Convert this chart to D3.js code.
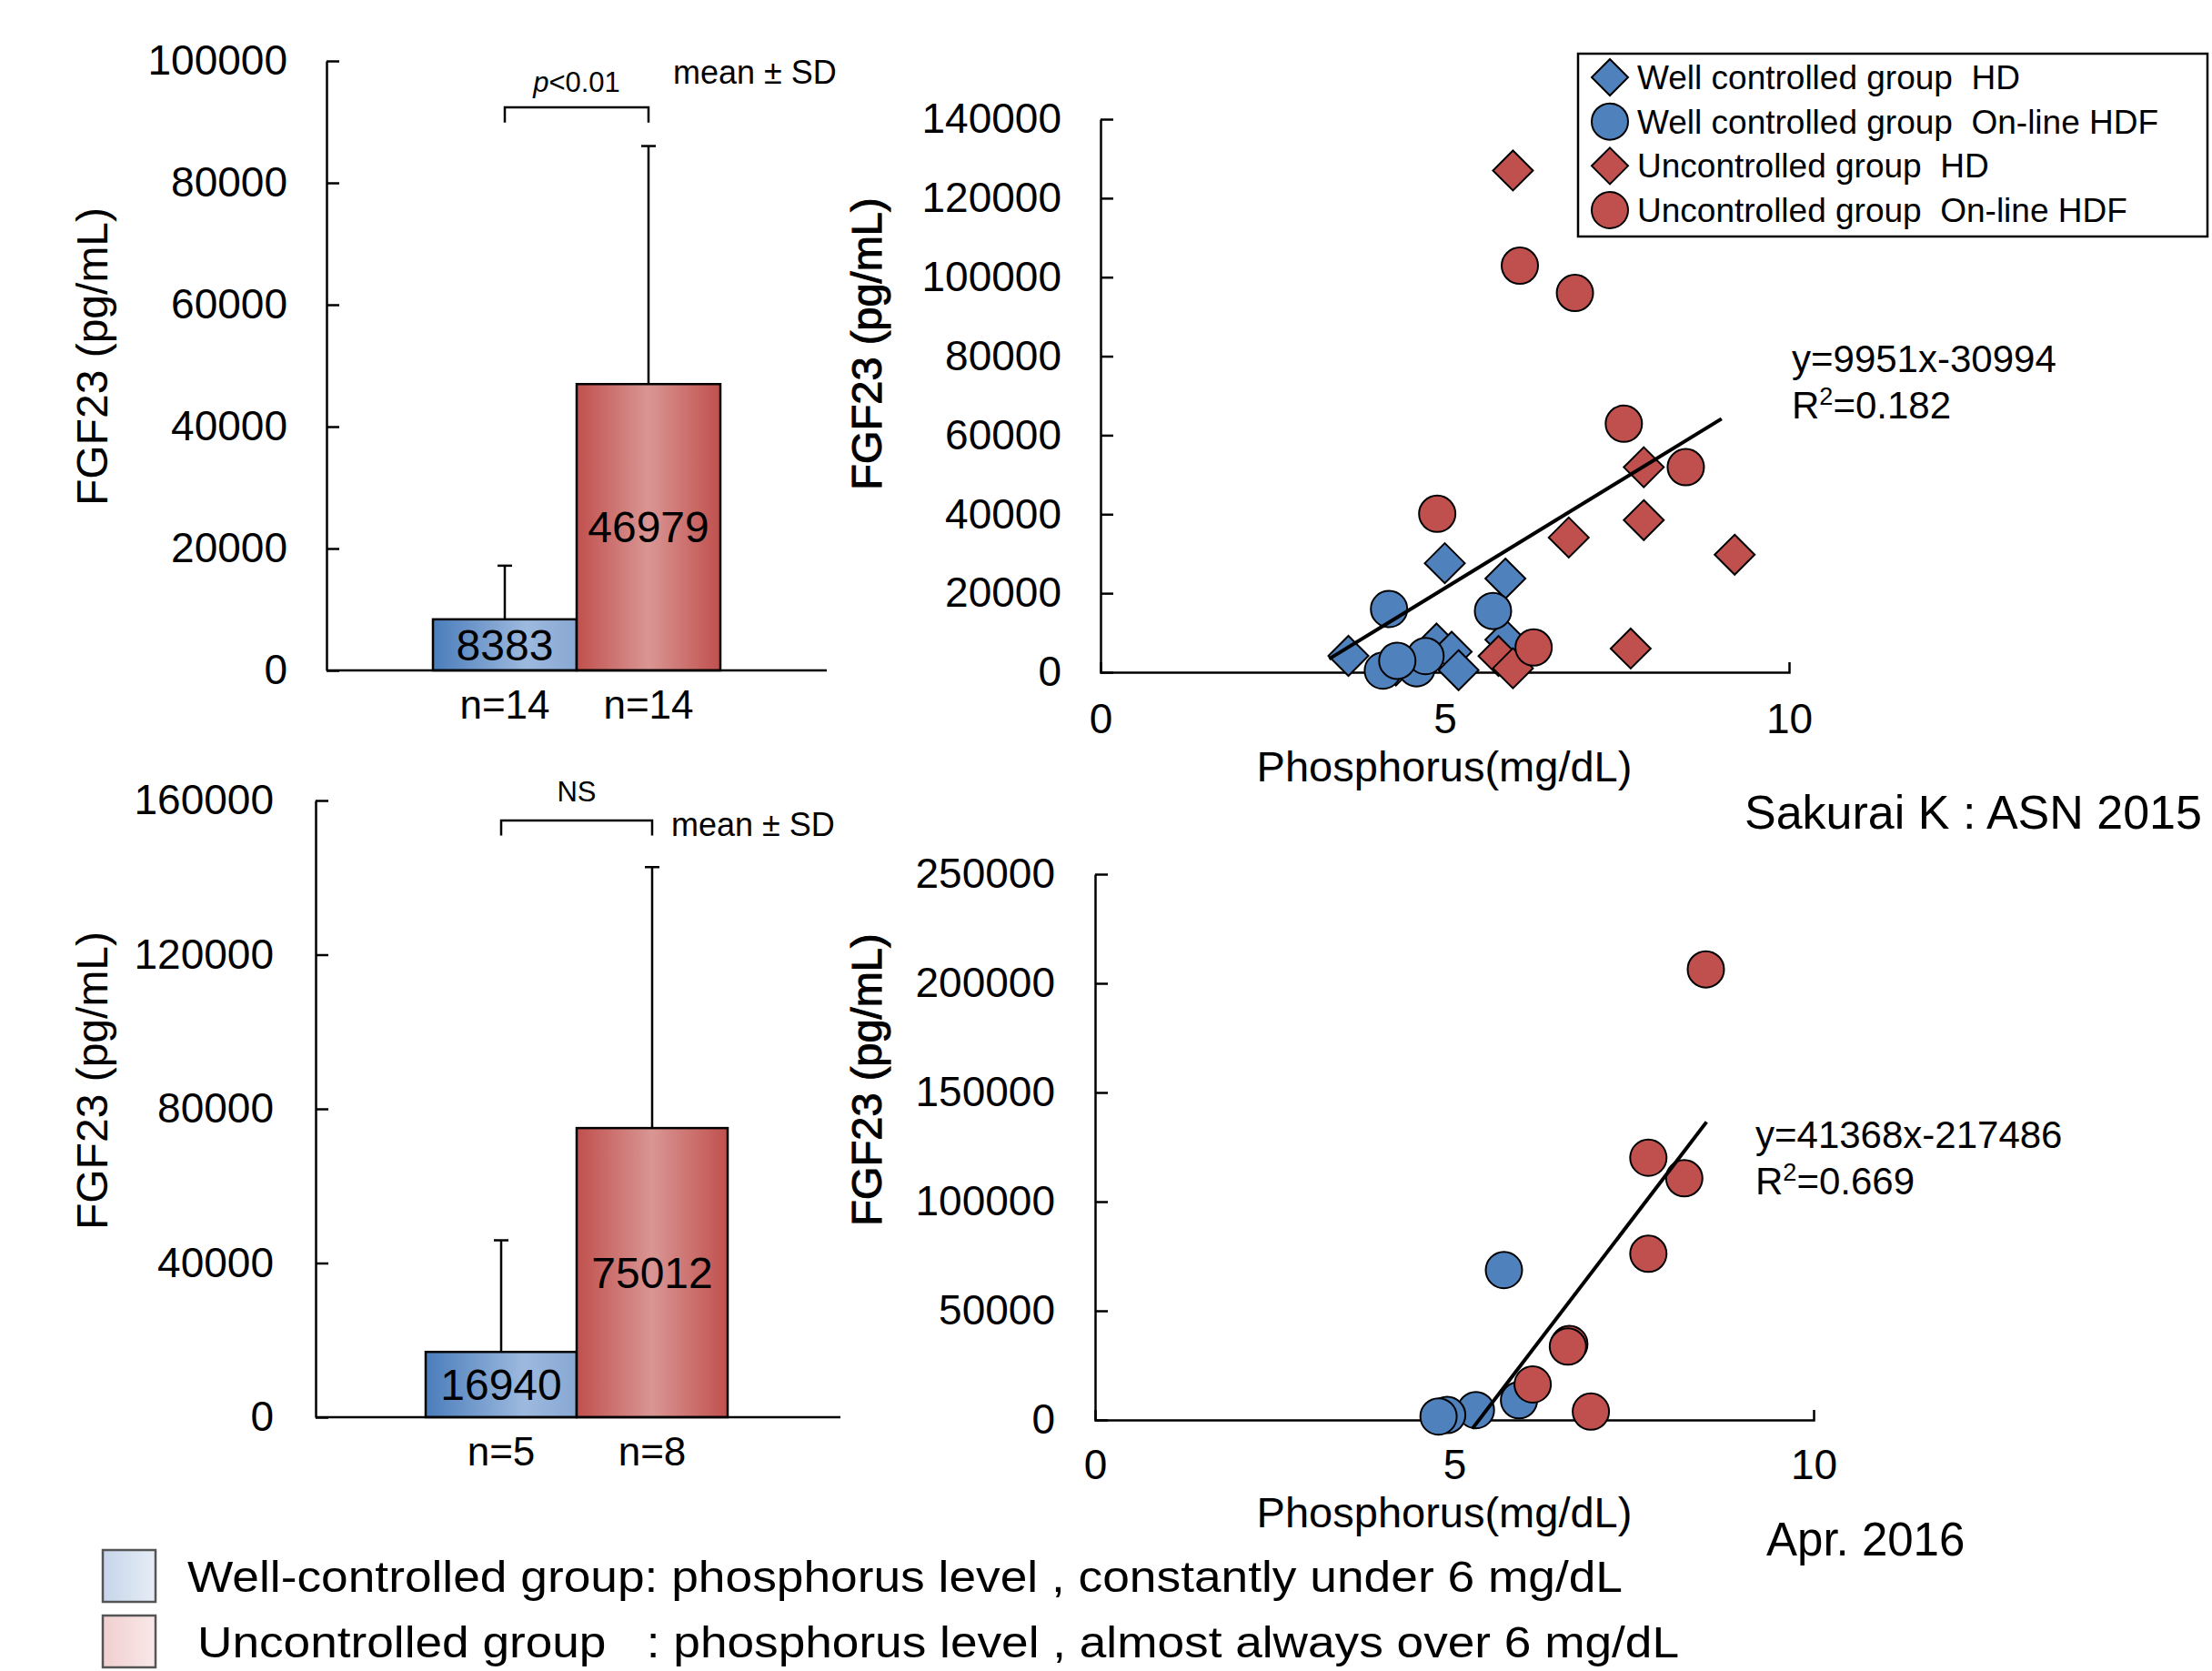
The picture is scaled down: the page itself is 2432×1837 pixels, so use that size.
<!DOCTYPE html>
<html>
<head>
<meta charset="utf-8">
<script src="https://cdn.jsdelivr.net/npm/d3@7"></script>
<style>
  html, body { margin: 0; padding: 0; background: #fff; }
  svg text { font-family: "Liberation Sans", Arial, Helvetica, sans-serif; fill: #000; }
</style>
</head>
<body>
<div id="chart"></div>
<script>
/**
 * DATA
 * */
const groups = ["Well controlled", "Uncontrolled"];

// bar charts (mean, SD, n)
const topMeans = [8383, 46979];
const topSD = [8800, 39060];
const topN = ["n=14", "n=14"];
const topTicks = [0, 20000, 40000, 60000, 80000, 100000];

const botMeans = [16940, 75012];
const botSD = [28960, 67700];
const botN = ["n=5", "n=8"];
const botTicks = [0, 40000, 80000, 120000, 160000];

// scatter, all patients: [phosphorus, FGF23]
const wellHD = [[5.00, 27600], [5.88, 23700], [3.60, 4150], [4.88, 7260], [5.10, 5190], [5.20, 500], [5.88, 8250], [4.29, 1700]];
const wellHDF = [[4.19, 16000], [5.70, 15500], [4.10, 400], [4.59, 1000], [4.72, 4100], [4.31, 2900]];
const unHD = [[5.99, 127000], [7.89, 51900], [7.89, 38500], [6.80, 34100], [9.21, 29750], [7.70, 6000], [5.78, 4100], [5.99, 1000]];
const unHDF = [[6.09, 102900], [6.89, 96000], [7.60, 62900], [8.50, 51900], [4.89, 40100], [6.29, 6250]];
const scatterTopTicks = [0, 20000, 40000, 60000, 80000, 100000, 120000, 140000];
const fitTopLine = [[3.32, 3360], [9.02, 64150]];   // drawn trend line y=9951x-30994

// scatter, on-line HDF patients
const wellHDF2 = [[5.69, 68650], [5.90, 9030], [5.30, 4500], [4.90, 2260], [4.78, 1580]];
const unHDF2 = [[8.50, 206400], [7.70, 120100], [8.20, 110700], [7.70, 76100], [6.60, 34800], [6.58, 33600], [6.09, 16260], [6.90, 3840]];
const scatterBotTicks = [0, 50000, 100000, 150000, 200000, 250000];
const fitBotLine = [[5.25, -4000], [8.51, 136500]];  // drawn trend line y=41368x-217486

const xTicks = [0, 5, 10];

const legendLabels = ["Well controlled group  HD", "Well controlled group  On-line HDF", "Uncontrolled group  HD", "Uncontrolled group  On-line HDF"];
const noteLabels = ["Well-controlled group: phosphorus level , constantly under 6 mg/dL",
                    "Uncontrolled group   : phosphorus level , almost always over 6 mg/dL"];

const BLUE = "#4f81bd", RED = "#c0504d";

/**
 * SVG
 * */
const svg = d3.select("#chart").append("svg")
  .attr("width", 2432)
  .attr("height", 1837)
  .style("display", "block");

const defs = svg.append("defs");
function grad(id, stops) {
  const lg = defs.append("linearGradient").attr("id", id).attr("x1", 0).attr("x2", 1).attr("y1", 0).attr("y2", 0);
  stops.forEach(s => lg.append("stop").attr("offset", s[0]).attr("stop-color", s[1]));
}
grad("barBlue", [[0, "#4a7dbb"], [0.65, "#9db9de"], [1, "#88a8d3"]]);
grad("barRed", [[0, "#c0504d"], [0.5, "#d99694"], [1, "#c0504d"]]);
grad("boxBlue", [[0, "#c6d5ea"], [1, "#e6edf6"]]);
grad("boxRed", [[0, "#f0cfcf"], [1, "#f9e8e8"]]);

function styleAxis(g, size) {
  g.attr("font-size", size).attr("font-family", null);
  g.selectAll(".domain").attr("stroke", "#000").attr("stroke-width", 2.5);
  g.selectAll(".tick line").attr("stroke", "#000").attr("stroke-width", 2.5);
}

/*********************/
/*** BAR CHARTS    ***/
/*********************/
function drawBars(cfg) {
  const y = d3.scaleLinear().domain([0, cfg.max]).range([cfg.y0, cfg.y1]);
  const x = d3.scaleBand().domain(groups).range([cfg.barL, cfg.barR]).paddingInner(0);
  const g = svg.append("g");

  // bars
  g.selectAll("rect.bar")
    .data(cfg.means)
    .join("rect")
    .attr("class", "bar")
    .attr("x", (d, i) => x(groups[i]))
    .attr("y", d => y(d))
    .attr("width", x.bandwidth())
    .attr("height", d => y(0) - y(d))
    .attr("fill", (d, i) => i === 0 ? "url(#barBlue)" : "url(#barRed)")
    .attr("stroke", "#000")
    .attr("stroke-width", 2.5);

  // error bars (mean + SD)
  const cx = i => x(groups[i]) + x.bandwidth() / 2;
  cfg.means.forEach((m, i) => {
    g.append("line").attr("x1", cx(i)).attr("x2", cx(i))
      .attr("y1", y(m)).attr("y2", y(m + cfg.sd[i]))
      .attr("stroke", "#000").attr("stroke-width", 2.5);
    g.append("line").attr("x1", cx(i) - 8).attr("x2", cx(i) + 8)
      .attr("y1", y(m + cfg.sd[i])).attr("y2", y(m + cfg.sd[i]))
      .attr("stroke", "#000").attr("stroke-width", 2.5);
  });

  // value labels
  g.selectAll("text.val")
    .data(cfg.means)
    .join("text")
    .attr("class", "val")
    .attr("x", (d, i) => cx(i))
    .attr("y", d => (y(d) + y(0)) / 2)
    .attr("dy", "0.35em")
    .attr("text-anchor", "middle")
    .attr("font-size", 48)
    .text(d => d);

  // n labels
  g.selectAll("text.n")
    .data(cfg.n)
    .join("text")
    .attr("class", "n")
    .attr("x", (d, i) => cx(i))
    .attr("y", cfg.nY)
    .attr("text-anchor", "middle")
    .attr("font-size", 44)
    .text(d => d);

  // axes
  const ax = g.append("g")
    .attr("transform", `translate(${cfg.axisX},0)`)
    .call(d3.axisLeft(y).tickValues(cfg.ticks).tickSizeInner(-14).tickSizeOuter(0)
      .tickPadding(cfg.pad).tickFormat(d3.format("d")));
  styleAxis(ax, 46);
  g.append("line")
    .attr("x1", cfg.axisX).attr("x2", cfg.axisR)
    .attr("y1", y(0)).attr("y2", y(0))
    .attr("stroke", "#000").attr("stroke-width", 2.5);

  // significance bracket
  g.append("path")
    .attr("d", `M${cx(0)},${y(cfg.brEnd)}V${y(cfg.brTop)}H${cx(1)}V${y(cfg.brEnd)}`)
    .attr("fill", "none").attr("stroke", "#000").attr("stroke-width", 2.5);
  const sig = g.append("text")
    .attr("x", (cx(0) + cx(1)) / 2)
    .attr("y", y(cfg.sigY))
    .attr("text-anchor", "middle")
    .attr("font-size", 31);
  if (cfg.sig === "p") {
    sig.append("tspan").attr("font-style", "italic").text("p");
    sig.append("tspan").text("<0.01");
  } else {
    sig.text(cfg.sig);
  }
  g.append("text")
    .attr("x", cfg.msX).attr("y", y(cfg.msY))
    .attr("font-size", 36)
    .text("mean \u00b1 SD");

  // y label
  g.append("text")
    .attr("transform", `translate(${cfg.labX},${cfg.labY}) rotate(-90)`)
    .attr("text-anchor", "middle")
    .attr("dy", "0.35em")
    .attr("font-size", 48)
    .text("FGF23 (pg/mL)");
}

drawBars({
  means: topMeans, sd: topSD, n: topN, ticks: topTicks, max: 100000,
  y0: 737, y1: 67, barL: 476, barR: 792, axisX: 359, axisR: 909, pad: 43,
  nY: 790, brTop: 92400, brEnd: 89900, sigY: 95000, sig: "p",
  msX: 740, msY: 96200, labX: 101, labY: 392
});

drawBars({
  means: botMeans, sd: botSD, n: botN, ticks: botTicks, max: 160000,
  y0: 1558, y1: 880, barL: 468, barR: 800, axisX: 347, axisR: 924, pad: 46,
  nY: 1611, brTop: 154800, brEnd: 150900, sigY: 159800, sig: "NS",
  msX: 738, msY: 150900, labX: 101, labY: 1188
});

/*********************/
/*** SCATTER PLOTS ***/
/*********************/
const diamondPath = h => `M0,${-h}L${h},0L0,${h}L${-h},0Z`;

function marker(sel, shape, color) {
  if (shape === "diamond") {
    sel.append("path").attr("d", diamondPath(22));
  } else {
    sel.append("circle").attr("r", 20);
  }
  sel.selectAll("path,circle")
    .attr("fill", color)
    .attr("stroke", "#000")
    .attr("stroke-width", 2);
}

function drawScatter(cfg) {
  const x = d3.scaleLinear().domain([0, 10]).range(cfg.xRange);
  const y = d3.scaleLinear().domain([0, cfg.max]).range(cfg.yRange);
  const g = svg.append("g");

  const ay = g.append("g")
    .attr("transform", `translate(${x(0)},0)`)
    .call(d3.axisLeft(y).tickValues(cfg.ticks).tickSizeInner(-14).tickSizeOuter(0)
      .tickPadding(cfg.pad).tickFormat(d3.format("d")));
  styleAxis(ay, 46);

  const axx = g.append("g")
    .attr("transform", `translate(0,${y(0)})`)
    .call(d3.axisBottom(x).tickValues(xTicks).tickSizeInner(0).tickSizeOuter(-11)
      .tickPadding(cfg.xPad).tickFormat(d3.format("d")));
  styleAxis(axx, 46);

  // points
  cfg.series.forEach(s => {
    g.selectAll(null)
      .data(s.data)
      .join("g")
      .attr("transform", d => `translate(${x(d[0])},${y(d[1])})`)
      .each(function () { marker(d3.select(this), s.shape, s.color); });
  });

  // trend line
  const line = d3.line().x(d => x(d[0])).y(d => y(d[1]));
  g.append("path")
    .attr("d", line(cfg.fitLine))
    .attr("fill", "none")
    .attr("stroke", "#000").attr("stroke-width", 4);

  g.append("text")
    .attr("x", cfg.eqX).attr("y", cfg.eqY)
    .attr("font-size", 42)
    .text(cfg.eq);
  const r2 = g.append("text")
    .attr("x", cfg.eqX).attr("y", cfg.eqY + 51)
    .attr("font-size", 42);
  r2.append("tspan").text("R");
  r2.append("tspan").attr("font-size", 27).attr("dy", -15).text("2");
  r2.append("tspan").attr("dy", 15).text("=" + cfg.r2);

  // axis titles
  g.append("text")
    .attr("x", 1588).attr("y", cfg.xTitleY)
    .attr("text-anchor", "middle")
    .attr("font-size", 47)
    .text("Phosphorus(mg/dL)");
  g.append("text")
    .attr("transform", `translate(953,${cfg.labY}) rotate(-90)`)
    .attr("text-anchor", "middle")
    .attr("dy", "0.35em")
    .attr("font-size", 47)
    .attr("stroke", "#000").attr("stroke-width", 1)
    .text("FGF23 (pg/mL)");
}

drawScatter({
  xRange: [1210, 1967], yRange: [739, 131], max: 140000, ticks: scatterTopTicks,
  pad: 43, xPad: 34, xTitleY: 859, labY: 378,
  series: [
    { data: wellHD, shape: "diamond", color: BLUE },
    { data: wellHDF, shape: "circle", color: BLUE },
    { data: unHD, shape: "diamond", color: RED },
    { data: unHDF, shape: "circle", color: RED }
  ],
  fitLine: fitTopLine, eq: "y=9951x-30994", r2: "0.182",
  eqX: 1970, eqY: 409
});

drawScatter({
  xRange: [1204, 1994], yRange: [1561, 961], max: 250000, ticks: scatterBotTicks,
  pad: 44, xPad: 32, xTitleY: 1679, labY: 1187,
  series: [
    { data: wellHDF2, shape: "circle", color: BLUE },
    { data: unHDF2, shape: "circle", color: RED }
  ],
  fitLine: fitBotLine, eq: "y=41368x-217486", r2: "0.669",
  eqX: 1930, eqY: 1262
});

/*********************/
/*** LEGENDS       ***/
/*********************/
const leg = svg.append("g");
leg.append("rect")
  .attr("x", 1735).attr("y", 59).attr("width", 692).attr("height", 201)
  .attr("fill", "#fff").attr("stroke", "#000").attr("stroke-width", 2.5);
const legShapes = ["diamond", "circle", "diamond", "circle"];
const legColors = [BLUE, BLUE, RED, RED];
const legY = d3.scalePoint().domain(legendLabels).range([85, 231]);
legendLabels.forEach((lab, i) => {
  const item = leg.append("g").attr("transform", `translate(1770,${legY(lab)})`);
  marker(item, legShapes[i], legColors[i]);
  item.select("path").attr("d", diamondPath(20));
  item.select("circle").attr("r", 20);
  item.append("text")
    .attr("x", 30).attr("dy", "0.35em")
    .attr("font-size", 37)
    .style("white-space", "pre")
    .text(lab);
});

// bottom notes
const noteY = [1733, 1805];
const noteX = [206, 217];
const noteW = [1578, 1629];
const boxFill = ["url(#boxBlue)", "url(#boxRed)"];
noteLabels.forEach((lab, i) => {
  svg.append("rect")
    .attr("x", 113).attr("y", noteY[i] - 29).attr("width", 58).attr("height", 57)
    .attr("fill", boxFill[i]).attr("stroke", "#555").attr("stroke-width", 2.5);
  svg.append("text")
    .attr("x", noteX[i]).attr("y", noteY[i]).attr("dy", "0.35em")
    .attr("font-size", 48)
    .attr("textLength", noteW[i])
    .attr("lengthAdjust", "spacingAndGlyphs")
    .style("white-space", "pre")
    .text(lab);
});

svg.append("text").attr("x", 1918).attr("y", 911).attr("font-size", 52).text("Sakurai K : ASN 2015");
svg.append("text").attr("x", 1942).attr("y", 1710).attr("font-size", 51).text("Apr. 2016");
</script>
</body>
</html>
